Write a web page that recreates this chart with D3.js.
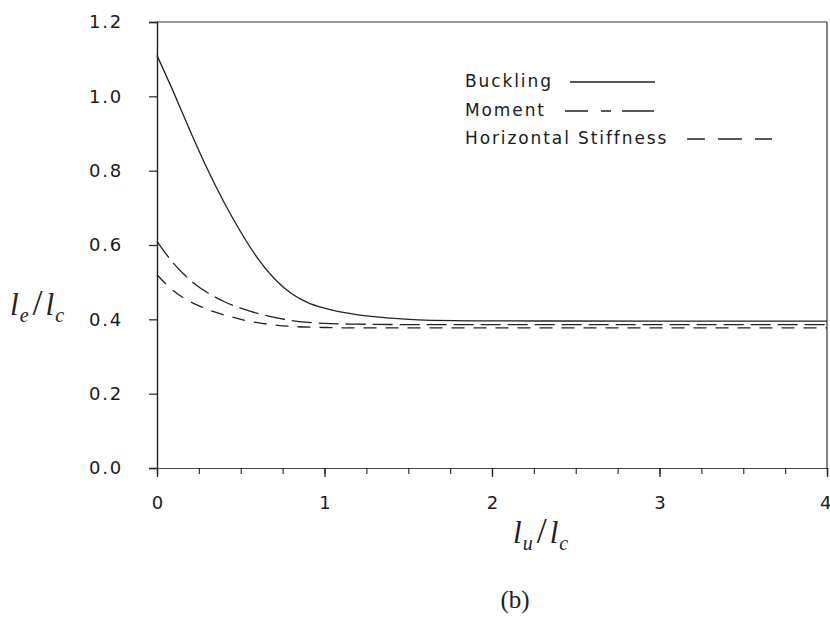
<!DOCTYPE html>
<html>
<head>
<meta charset="utf-8">
<script src="https://cdn.jsdelivr.net/npm/d3@7"></script>
<style>
  body { margin: 0; background: #fff; }
  .tick-label { font-family: 'DejaVu Sans', sans-serif; font-size: 18px; fill: #1a1a1a; letter-spacing: 1.8px; }
  .legend { font-family: 'DejaVu Sans', sans-serif; font-size: 17px; fill: #1a1a1a; letter-spacing: 1.9px; }
  .math { font-family: 'Liberation Serif', 'Times New Roman', serif; font-style: italic; fill: #222; }
  .curve { fill: none; stroke: #222; stroke-width: 1.3; }
</style>
</head>
<body>
<div class="chart"></div>
<script>
'use strict'

const width = 830
const height = 623

// x values (l_u / l_c)
const xBuckling = [0, 0.1, 0.2, 0.3, 0.4, 0.5, 0.6, 0.7, 0.8, 0.9, 1.0, 1.2, 1.4, 1.6, 2.0, 3.0, 4.0]
const yBuckling = [1.11, 1.01, 0.905, 0.805, 0.715, 0.635, 0.565, 0.51, 0.47, 0.445, 0.43, 0.412, 0.403, 0.398, 0.396, 0.395, 0.395]

const xMoment = [0, 0.1, 0.2, 0.3, 0.4, 0.5, 0.6, 0.7, 0.8, 0.9, 1.0, 1.2, 1.5, 2.0, 3.0, 4.0]
const yMoment = [0.61, 0.55, 0.505, 0.472, 0.448, 0.43, 0.416, 0.405, 0.397, 0.392, 0.389, 0.387, 0.386, 0.386, 0.386, 0.386]

const xStiffness = [0, 0.1, 0.2, 0.3, 0.4, 0.5, 0.6, 0.7, 0.8, 1.0, 1.2, 1.5, 2.0, 3.0, 4.0]
const yStiffness = [0.52, 0.476, 0.447, 0.427, 0.412, 0.4, 0.391, 0.385, 0.381, 0.378, 0.377, 0.377, 0.377, 0.377, 0.377]

const xTicks = [0, 1, 2, 3, 4]
const xMinorTicks = d3.range(0, 4.001, 0.25)
const yTicks = [0, 0.2, 0.4, 0.6, 0.8, 1.0, 1.2]

const legendNames = ['Buckling', 'Moment', 'Horizontal Stiffness']
const dashes = [null, '20,7', '13,9']
const legendDashes = [null, '23,13,10,11,32', '18,13,24,13,17']

const series = [
  { name: legendNames[0], xs: xBuckling, ys: yBuckling, dash: dashes[0] },
  { name: legendNames[1], xs: xMoment, ys: yMoment, dash: dashes[1] },
  { name: legendNames[2], xs: xStiffness, ys: yStiffness, dash: dashes[2] }
]

const plotLeft = 157
const plotRight = 827
const plotTop = 22
const plotBottom = 468

const x = d3.scaleLinear().domain([0, 4]).range([plotLeft, plotRight])
const y = d3.scaleLinear().domain([0, 1.2]).range([plotBottom, plotTop])

const svg = d3.select('.chart').append('svg')
    .attr('width', width)
    .attr('height', height)

// frame: top and right borders
svg.append('line')
    .attr('x1', plotLeft).attr('x2', plotRight)
    .attr('y1', plotTop).attr('y2', plotTop)
    .attr('stroke', '#333').attr('stroke-width', 1.2)
svg.append('line')
    .attr('x1', plotRight).attr('x2', plotRight)
    .attr('y1', plotTop).attr('y2', plotBottom)
    .attr('stroke', '#333').attr('stroke-width', 1.2)

// y axis
const yAxis = svg.append('g')
    .attr('transform', 'translate(' + plotLeft + ',0)')
    .call(d3.axisLeft(y).tickValues(yTicks).tickSize(8).tickFormat(d3.format('.1f')).tickPadding(26))
yAxis.select('.domain').attr('stroke', '#222').attr('stroke-width', 1.4)
yAxis.selectAll('.tick line').attr('stroke', '#222').attr('stroke-width', 1.2)
yAxis.selectAll('text').attr('class', 'tick-label').attr('fill', null)
yAxis.attr('font-size', null).attr('font-family', null)

// x axis minor ticks
const xMinor = svg.append('g')
    .attr('transform', 'translate(0,' + plotBottom + ')')
    .call(d3.axisBottom(x).tickValues(xMinorTicks).tickSize(6).tickFormat(''))
xMinor.select('.domain').attr('stroke', '#444').attr('stroke-width', 1.2)
xMinor.selectAll('.tick line').attr('stroke', '#333').attr('stroke-width', 1.2)

// x axis major ticks + labels
const xAxis = svg.append('g')
    .attr('transform', 'translate(0,' + plotBottom + ')')
    .call(d3.axisBottom(x).tickValues(xTicks).tickSize(9).tickFormat(d3.format('d')).tickPadding(19))
xAxis.select('.domain').remove()
xAxis.selectAll('.tick line').attr('stroke', '#222').attr('stroke-width', 1.3)
xAxis.selectAll('text')
    .attr('class', 'tick-label')
    .attr('fill', null)
    .style('letter-spacing', '0px')
    .attr('text-anchor', d => d === 4 ? 'end' : 'middle')
    .attr('dx', d => d === 4 ? 4 : 0)
xAxis.attr('font-size', null).attr('font-family', null)

// curves
const line = d3.line()
    .x(d => x(d[0]))
    .y(d => y(d[1]))
    .curve(d3.curveMonotoneX)

svg.selectAll('.curve')
    .data(series)
  .enter().append('path')
    .attr('class', 'curve')
    .attr('stroke-dasharray', d => d.dash)
    .attr('d', d => line(d.xs.map((v, i) => [v, d.ys[i]])))

// legend
const legendX = 465
const legendY = [87, 116, 144]
const legendLine = [[570, 655], [565, 655], [687, 772]]

const legend = svg.selectAll('.legend-item')
    .data(series)
  .enter().append('g')
    .attr('class', 'legend-item')

legend.append('text')
    .attr('class', 'legend')
    .attr('x', legendX)
    .attr('y', (d, i) => legendY[i])
    .text(d => d.name)

legend.append('line')
    .attr('x1', (d, i) => legendLine[i][0])
    .attr('x2', (d, i) => legendLine[i][1])
    .attr('y1', (d, i) => legendY[i] - 5)
    .attr('y2', (d, i) => legendY[i] - 5)
    .attr('stroke', '#222')
    .attr('stroke-width', 1.3)
    .attr('stroke-dasharray', (d, i) => legendDashes[i])

// axis titles: l_e / l_c and l_u / l_c
function ratioLabel(g, sub1) {
  const t = g.append('text').attr('class', 'math')
  t.append('tspan').attr('font-size', 31).text('l')
  t.append('tspan').attr('font-size', 20).attr('dy', 7).attr('dx', 1).text(sub1)
  t.append('tspan').attr('font-size', 36).attr('font-style', 'normal').attr('dy', -7).attr('dx', 4).text('/')
  t.append('tspan').attr('font-size', 31).attr('dx', 3).text('l')
  t.append('tspan').attr('font-size', 20).attr('dy', 7).attr('dx', 1).text('c')
  return t
}

ratioLabel(svg.append('g').attr('transform', 'translate(10,315)'), 'e')
ratioLabel(svg.append('g').attr('transform', 'translate(513,543)'), 'u')

svg.append('text')
    .attr('x', 515)
    .attr('y', 608)
    .attr('text-anchor', 'middle')
    .attr('font-family', "'Liberation Serif', 'Times New Roman', serif")
    .attr('font-size', 25)
    .attr('fill', '#222')
    .text('(b)')
</script>
</body>
</html>
